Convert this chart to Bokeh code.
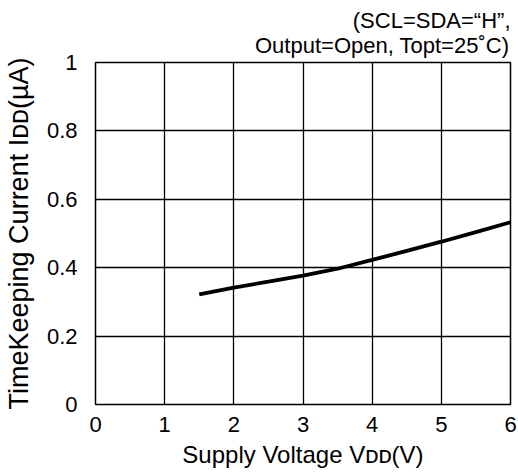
from bokeh.plotting import figure
from bokeh.models import Range1d, FixedTicker, Title, CustomJSTickFormatter
from bokeh.embed import file_html
from bokeh.resources import INLINE

voltage = [1.5, 2.0, 2.5, 3.0, 3.5, 4.0, 4.5, 5.0, 5.5, 6.0]
current = [0.322, 0.342, 0.359, 0.377, 0.397, 0.423, 0.449, 0.476, 0.504, 0.533]
x_ticks = [0, 1, 2, 3, 4, 5, 6]
y_ticks = [0, 0.2, 0.4, 0.6, 0.8, 1.0]
note_lines = ["(SCL=SDA=\u201cH\u201d,", "Output=Open, Topt=25\u02daC)"]

FONT = "Liberation Sans"

p = figure(width=518, height=474, output_backend="svg", toolbar_location=None,
           x_range=Range1d(0, 6), y_range=Range1d(0, 1),
           min_border_left=95, min_border_right=8, min_border_top=62, min_border_bottom=70)

p.outline_line_color = "black"
p.outline_line_width = 1.5
p.outline_line_alpha = 1.0

for g, t in ((p.xgrid, x_ticks), (p.ygrid, y_ticks)):
    g.ticker = FixedTicker(ticks=t)
    g.grid_line_color = "black"
    g.grid_line_alpha = 1.0
    g.grid_line_width = 1.3

p.xaxis.ticker = FixedTicker(ticks=x_ticks)
p.yaxis.ticker = FixedTicker(ticks=y_ticks)
p.xaxis.formatter = CustomJSTickFormatter(code="return (Math.round(tick*10)/10).toString();")
p.yaxis.formatter = CustomJSTickFormatter(code="return (Math.round(tick*10)/10).toString();")

for ax in (p.xaxis, p.yaxis):
    ax.axis_line_color = None
    ax.major_tick_line_color = None
    ax.minor_tick_line_color = None
    ax.major_label_text_font = FONT
    ax.major_label_text_font_size = "22px"
    ax.major_label_text_color = "black"
    ax.axis_label_text_font = FONT
    ax.axis_label_text_font_style = "normal"
    ax.axis_label_text_color = "black"

p.xaxis.axis_label_text_font_size = "24px"
p.yaxis.axis_label_text_font_size = "27px"
p.xaxis.major_label_standoff = 6
p.yaxis.major_label_standoff = 12
p.xaxis.axis_label = "Supply Voltage V\u1d05\u1d05(V)"
p.yaxis.axis_label = "TimeKeeping Current I\u1d05\u1d05(\u00b5A)"
p.xaxis.axis_label_standoff = 6
p.yaxis.axis_label_standoff = 10

p.line(voltage, current, line_color="black", line_width=3.8)

# right-align the first line of the block by padding with no-break spaces
note_text = "\u00a0" * 16 + note_lines[0] + "\n" + note_lines[1]
p.add_layout(Title(text=note_text, align="right", text_font=FONT,
                   text_font_size="22px", text_font_style="normal", text_color="black",
                   text_line_height=1.0, standoff=10, offset=0), "above")

open("out.html", "w").write(file_html(p, INLINE))
